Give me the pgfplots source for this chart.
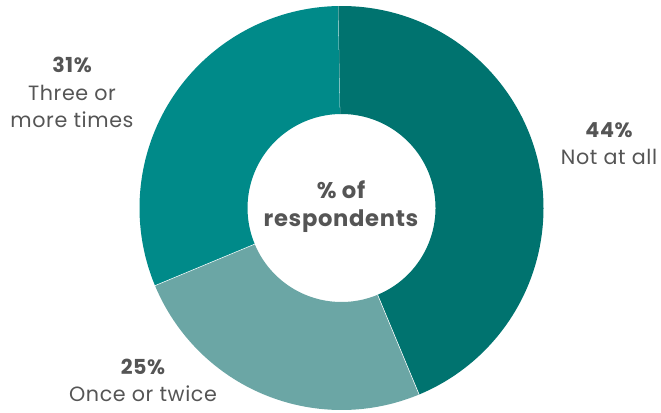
\documentclass[border=0pt]{standalone}
\usepackage{pgfplots}
\pgfplotsset{compat=1.18}
\usepackage{pgfplotstable}
\usepackage{fontspec}
\setmainfont{Poppins}[LetterSpace=3]
\definecolor{cA}{HTML}{00736F}
\definecolor{cB}{HTML}{6BA6A5}
\definecolor{cC}{HTML}{008A89}
\definecolor{txt}{HTML}{555555}
\pgfplotstableread{
label value
NotAtAll 44
OnceTwice 25
ThreeMore 31
}\donutdata
\pgfplotstablegetelem{0}{value}\of\donutdata \let\va\pgfplotsretval
\pgfplotstablegetelem{1}{value}\of\donutdata \let\vb\pgfplotsretval
\pgfplotstablegetelem{2}{value}\of\donutdata \let\vc\pgfplotsretval
\pgfmathsetmacro\aA{91}
\pgfmathsetmacro\aB{\aA-3.6*\va}
\pgfmathsetmacro\aC{\aB-3.6*\vb}
\pgfmathsetmacro\aD{\aC-3.6*\vc}
\newcommand{\slice}[3]{%
  \fill[#1] (axis cs:341.5,204) ++(#2:151.5pt) arc[start angle=#2, end angle=#3, radius=151.5pt]
    -- ++(#3:-81pt) arc[start angle=#3, end angle=#2, radius=70.5pt] -- cycle;
  \draw[white, line width=0.4pt] (axis cs:341.5,204) ++(#2:70.5pt) -- ++(#2:81pt);}
\begin{document}
\begin{tikzpicture}
\begin{axis}[x=0.75pt, y=0.75pt, xmin=0, xmax=661, ymin=0, ymax=412,
  hide axis, clip=false, anchor=south west, at={(0,0)},
  nodes={text=txt, font=\fontsize{15.5}{17}\selectfont, inner sep=0pt, anchor=center}]
\slice{cA}{\aA}{\aB}
\slice{cB}{\aB}{\aC}
\slice{cC}{\aC}{\aD}
\node[font=\fontsize{15.5}{17}\selectfont\bfseries] at (axis cs:609,282) {44\%};
\node at (axis cs:609,255) {Not at all};
\node[font=\fontsize{15.5}{17}\selectfont\bfseries] at (axis cs:72,347) {31\%};
\node at (axis cs:72,319) {Three or};
\node at (axis cs:72,292) {more times};
\node[font=\fontsize{15.5}{17}\selectfont\bfseries] at (axis cs:143,45) {25\%};
\node at (axis cs:143,18) {Once or twice};
\node[font=\fontsize{17}{19}\selectfont\bfseries] at (axis cs:341,222) {\% of};
\node[font=\fontsize{17}{19}\selectfont\bfseries] at (axis cs:341,191) {respondents};
\end{axis}
\pgfresetboundingbox
\useasboundingbox (0,0) rectangle (495.75pt,309pt);
\end{tikzpicture}
\end{document}
